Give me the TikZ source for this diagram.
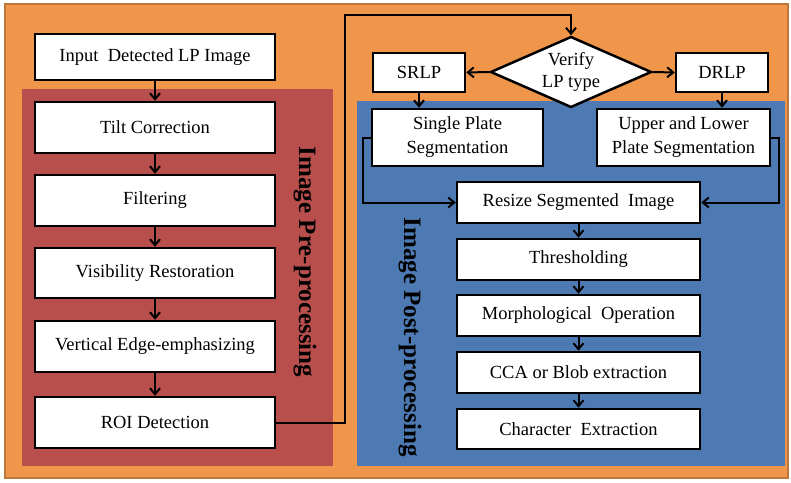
\documentclass[tikz,border=0pt]{standalone}
\usepackage{fontspec}
\setmainfont{Liberation Serif}
\usetikzlibrary{arrows.meta,shapes.geometric,positioning}
\definecolor{bgorange}{RGB}{240,150,75}
\definecolor{frameorange}{RGB}{190,118,58}
\definecolor{prered}{RGB}{185,79,77}
\definecolor{postblue}{RGB}{77,122,178}
\tikzset{
  stage/.style={draw, line width=2.5pt, fill=white, inner sep=0pt, align=center,
    font=\fontsize{18.5}{24}\selectfont},
  choice/.style={draw, diamond, aspect=2.27, line width=2.5pt, fill=white, inner sep=0pt, align=center,
    font=\fontsize{18.5}{22}\selectfont},
  link/.style={-{Straight Barb[length=6pt,width=10pt]}, line width=2pt},
  paneltitle/.style={rotate=-90, font=\bfseries\fontsize{25}{25}\selectfont}
}

\begin{document}
\begin{tikzpicture}[x=1pt,y=-1pt]
\useasboundingbox (0,0) rectangle (791,482);
% background and panels
\draw[fill=bgorange, draw=frameorange, line width=2.5pt] (5,4) rectangle (788,478);
\fill[prered] (22,89) rectangle (333,466);
\fill[postblue] (357,101) rectangle (785,466);

% pre-processing chain
\node[stage, minimum width=240, minimum height=46] (input) at (155,57) {Input~~Detected LP Image};
\node[stage, minimum width=240, minimum height=51] (tilt) at (155,127.5) {Tilt Correction};
\node[stage, minimum width=240, minimum height=51] (filter) at (155,200.5) {Filtering};
\node[stage, minimum width=240, minimum height=50] (visib) at (155,273) {Visibility Restoration};
\node[stage, minimum width=240, minimum height=51] (vedge) at (155,346.5) {Vertical Edge-emphasizing};
\node[stage, minimum width=240, minimum height=51] (roi) at (155,422.5) {ROI Detection};
\node[paneltitle] (pretitle) at (305,262) {Image Pre-processing};

\draw[link] (input) -- (tilt);
\draw[link] (tilt) -- (filter);
\draw[link] (filter) -- (visib);
\draw[link] (visib) -- (vedge);
\draw[link] (vedge) -- (roi);

% plate type decision
\node[choice, minimum width=161, minimum height=71] (verify) at (571,72) {Verify\\LP type};
\node[stage, minimum width=92, minimum height=39] (srlp) at (419,72.5) {SRLP};
\node[stage, minimum width=92, minimum height=39] (drlp) at (722,72.5) {DRLP};
\coordinate (rise) at (345,15);

\draw[link] (roi.east) -| (rise) -| (verify.north);
\draw[link] (verify.west) -- (srlp.east);
\draw[link] (verify.east) -- (drlp.west);

% post-processing chain
\node[stage, minimum width=171, minimum height=57] (single) at (457.5,137.5) {Single Plate\\Segmentation};
\node[stage, minimum width=173, minimum height=57] (double) at (683.5,137.5) {Upper and Lower\\Plate Segmentation};
\node[stage, minimum width=243, minimum height=41] (resize) at (578.5,202.5) {Resize Segmented~~Image};
\node[stage, minimum width=243, minimum height=41] (thresh) at (578.5,259.5) {Thresholding};
\node[stage, minimum width=243, minimum height=41] (morph) at (578.5,315.5) {Morphological~~Operation};
\node[stage, minimum width=243, minimum height=41] (blob) at (578.5,372.5) {CCA or Blob extraction};
\node[stage, minimum width=243, minimum height=40] (charx) at (578.5,429) {Character~~Extraction};
\node[paneltitle] (posttitle) at (410,337) {Image Post-processing};

\draw[link] (srlp.south) -- (srlp.south |- single.north);
\draw[link] (drlp.south) -- (drlp.south |- double.north);
\draw[link] (single.west) -- ++(-8,0) |- (resize.west);
\draw[link] (double.east) -- ++(8,0) |- (resize.east);
\draw[link] (resize) -- (thresh);
\draw[link] (thresh) -- (morph);
\draw[link] (morph) -- (blob);
\draw[link] (blob) -- (charx);
\end{tikzpicture}
\end{document}
